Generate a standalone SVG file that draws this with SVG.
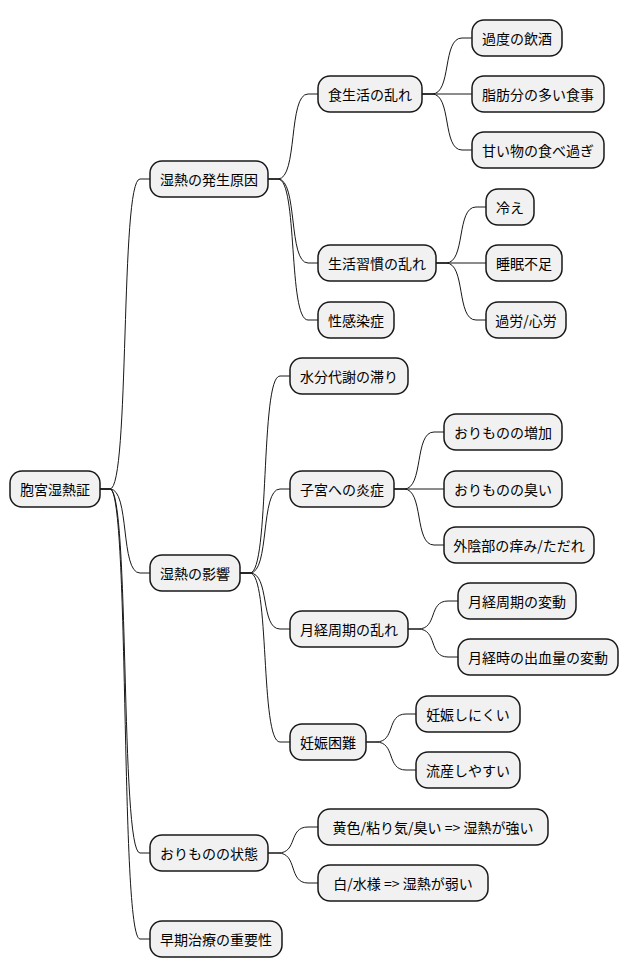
<svg xmlns="http://www.w3.org/2000/svg" width="628" height="978" viewBox="0 0 628 978">
<style>
.n rect{fill:#f1f1f1;stroke:#181818;stroke-width:1.5}
.n text{font-family:"Noto Sans CJK JP","Liberation Sans",sans-serif;font-size:14px;fill:#000;text-anchor:middle;dominant-baseline:central}
#edges path{fill:none;stroke:#181818;stroke-width:1}
</style>
<rect width="628" height="978" fill="#fff"/>
<g id="edges">
<path d="M100 489h10C130 489 120 179 140 179h10"/>
<path d="M100 489h10C130 489 120 573 140 573h10"/>
<path d="M100 489h10C130 489 120 853 140 853h10"/>
<path d="M100 489h10C130 489 120 939 140 939h10"/>
<path d="M268 179h10C298 179 288 94 308 94h10"/>
<path d="M268 179h10C298 179 288 263 308 263h10"/>
<path d="M268 179h10C298 179 288 320 308 320h10"/>
<path d="M422 94h10C452 94 442 38 462 38h10"/>
<path d="M422 94h50"/>
<path d="M422 94h10C452 94 442 150 462 150h10"/>
<path d="M436 263h10C466 263 456 207 476 207h10"/>
<path d="M436 263h50"/>
<path d="M436 263h10C466 263 456 320 476 320h10"/>
<path d="M240 573h10C270 573 260 376 280 376h10"/>
<path d="M240 573h10C270 573 260 489 280 489h10"/>
<path d="M240 573h10C270 573 260 629 280 629h10"/>
<path d="M240 573h10C270 573 260 742 280 742h10"/>
<path d="M394 489h10C424 489 414 432 434 432h10"/>
<path d="M394 489h50"/>
<path d="M394 489h10C424 489 414 545 434 545h10"/>
<path d="M408 629h10C438 629 428 601 448 601h10"/>
<path d="M408 629h10C438 629 428 657 448 657h10"/>
<path d="M366 742h10C396 742 386 714 406 714h10"/>
<path d="M366 742h10C396 742 386 770 406 770h10"/>
<path d="M268 853h10C298 853 288 827 308 827h10"/>
<path d="M268 853h10C298 853 288 883 308 883h10"/>
</g>
<g id="root" class="n"><rect x="10" y="471" width="90" height="36" rx="12"/><text x="55" y="489">胞宮湿熱証</text></g>
<g id="c1" class="n"><rect x="150" y="161" width="118" height="36" rx="12"/><text x="209" y="179">湿熱の発生原因</text></g>
<g id="c2" class="n"><rect x="150" y="555" width="90" height="36" rx="12"/><text x="195" y="573">湿熱の影響</text></g>
<g id="c3" class="n"><rect x="150" y="835" width="118" height="36" rx="12"/><text x="209" y="853">おりものの状態</text></g>
<g id="c4" class="n"><rect x="150" y="921" width="132" height="36" rx="12"/><text x="216" y="939">早期治療の重要性</text></g>
<g id="a1" class="n"><rect x="318" y="76" width="104" height="36" rx="12"/><text x="370" y="94">食生活の乱れ</text></g>
<g id="a2" class="n"><rect x="318" y="245" width="118" height="36" rx="12"/><text x="377" y="263">生活習慣の乱れ</text></g>
<g id="a3" class="n"><rect x="318" y="302" width="76" height="36" rx="12"/><text x="356" y="320">性感染症</text></g>
<g id="a11" class="n"><rect x="472" y="20" width="90" height="36" rx="12"/><text x="517" y="38">過度の飲酒</text></g>
<g id="a12" class="n"><rect x="472" y="76" width="132" height="36" rx="12"/><text x="538" y="94">脂肪分の多い食事</text></g>
<g id="a13" class="n"><rect x="472" y="132" width="132" height="36" rx="12"/><text x="538" y="150">甘い物の食べ過ぎ</text></g>
<g id="a21" class="n"><rect x="486" y="189" width="48" height="36" rx="12"/><text x="510" y="207">冷え</text></g>
<g id="a22" class="n"><rect x="486" y="245" width="76" height="36" rx="12"/><text x="524" y="263">睡眠不足</text></g>
<g id="a23" class="n"><rect x="486" y="302" width="80" height="36" rx="12"/><text x="526" y="320">過労/心労</text></g>
<g id="b1" class="n"><rect x="290" y="358" width="118" height="36" rx="12"/><text x="349" y="376">水分代謝の滞り</text></g>
<g id="b2" class="n"><rect x="290" y="471" width="104" height="36" rx="12"/><text x="342" y="489">子宮への炎症</text></g>
<g id="b3" class="n"><rect x="290" y="611" width="118" height="36" rx="12"/><text x="349" y="629">月経周期の乱れ</text></g>
<g id="b4" class="n"><rect x="290" y="724" width="76" height="36" rx="12"/><text x="328" y="742">妊娠困難</text></g>
<g id="b21" class="n"><rect x="444" y="414" width="118" height="36" rx="12"/><text x="503" y="432">おりものの増加</text></g>
<g id="b22" class="n"><rect x="444" y="471" width="118" height="36" rx="12"/><text x="503" y="489">おりものの臭い</text></g>
<g id="b23" class="n"><rect x="444" y="527" width="150" height="36" rx="12"/><text x="519" y="545">外陰部の痒み/ただれ</text></g>
<g id="b31" class="n"><rect x="458" y="583" width="118" height="36" rx="12"/><text x="517" y="601">月経周期の変動</text></g>
<g id="b32" class="n"><rect x="458" y="639" width="160" height="36" rx="12"/><text x="538" y="657">月経時の出血量の変動</text></g>
<g id="b41" class="n"><rect x="416" y="696" width="104" height="36" rx="12"/><text x="468" y="714">妊娠しにくい</text></g>
<g id="b42" class="n"><rect x="416" y="752" width="104" height="36" rx="12"/><text x="468" y="770">流産しやすい</text></g>
<g id="d1" class="n"><rect x="318" y="809" width="230" height="36" rx="12"/><text x="433" y="827">黄色/粘り気/臭い =&gt; 湿熱が強い</text></g>
<g id="d2" class="n"><rect x="318" y="865" width="170" height="36" rx="12"/><text x="403" y="883">白/水様 =&gt; 湿熱が弱い</text></g>
</svg>
